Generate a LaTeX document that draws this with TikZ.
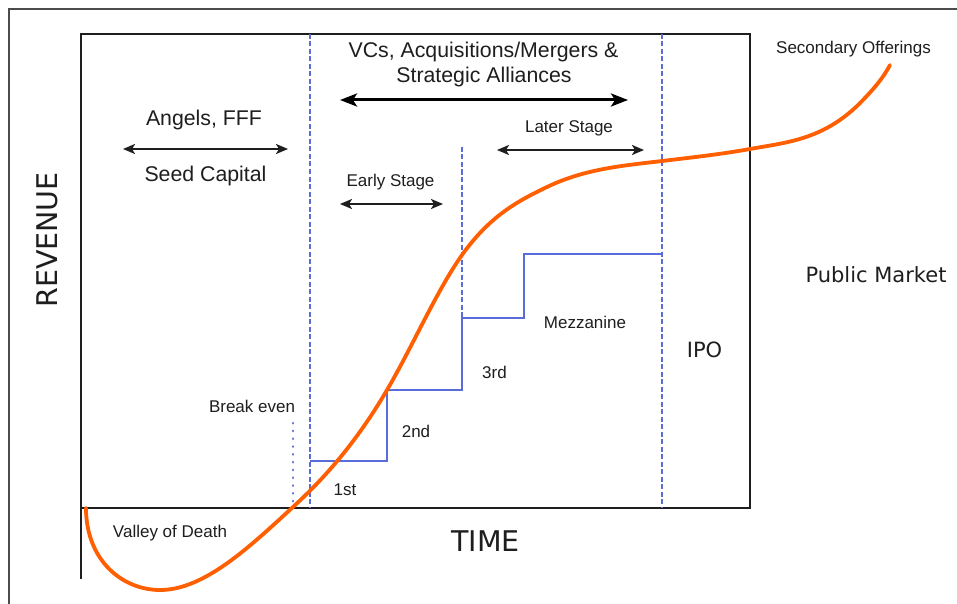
\documentclass[tikz,border=0pt]{standalone}
\usepackage{fontspec}
\setmainfont{Liberation Sans}
\newfontfamily\dvs{DejaVu Sans}
\usetikzlibrary{arrows.meta}
\definecolor{orng}{RGB}{255,95,0}
\definecolor{blu}{RGB}{88,108,218}
\definecolor{ink}{RGB}{30,30,30}
\begin{document}
\begin{tikzpicture}[x=1pt,y=-1pt,
  frameline/.style={draw=ink, line width=2.2pt},
  outerline/.style={draw=ink!80, line width=1.2pt},
  vdash/.style={draw=blu, line width=1.8pt, dash pattern=on 5pt off 2.5pt},
  vdot/.style={draw=blu, line width=2.6pt, line cap=round, dash pattern=on 0.3pt off 7.5pt},
  stepline/.style={draw=blu, line width=1.8pt},
  bigtxt/.style={font=\fontsize{21.3}{24}\selectfont, text=ink, anchor=base, inner sep=0pt},
  smtxt/.style={font=\fontsize{17}{20}\selectfont, text=ink, anchor=base, inner sep=0pt},
  dvbig/.style={font=\dvs\fontsize{28.5}{32}\selectfont, text=ink, anchor=base, inner sep=0pt},
  dvmid/.style={font=\dvs\fontsize{21}{24}\selectfont, text=ink, anchor=base, inner sep=0pt},
  dblarrow/.style={draw=ink, line width=2pt, {Stealth[length=12pt,width=10pt,inset=3pt]}-{Stealth[length=12pt,width=10pt,inset=3pt]}},
  bigarrow/.style={draw=black, line width=3pt, {Stealth[length=17pt,width=13pt,inset=4pt]}-{Stealth[length=17pt,width=13pt,inset=4pt]}}
]
\useasboundingbox (0,0) rectangle (957,604);
\fill[white] (0,0) rectangle (957,604);

% outer frame (top and left)
\draw[outerline] (9,604) -- (9,9) -- (957,9);

% main box
\coordinate (bl) at (81,508);
\coordinate (br) at (750,508);
\coordinate (tl) at (81,34);
\coordinate (tr) at (750,34);
\coordinate (axbot) at (81,579);
\draw[frameline] (axbot) -- (tl) -- (tr) -- (br) -- (bl);

% dashed blue verticals
\coordinate (d1t) at (310,34);  \coordinate (d1b) at (310,508);
\coordinate (d2t) at (462,147); \coordinate (d2b) at (462,318);
\coordinate (d3t) at (662,34);  \coordinate (d3b) at (662,508);
\draw[vdash] (d1t) -- (d1b);
\draw[vdash] (d2t) -- (d2b);
\draw[vdash] (d3t) -- (d3b);

% break-even dotted line
\coordinate (bet) at (293,423);
\coordinate (beb) at (293,506);
\draw[vdot] (bet) -- (beb);

% funding steps
\draw[stepline] (310,461) -- (387,461) -- (387,390) -- (462,390) -- (462,318)
  -- (524,318) -- (524,254) -- (662,254);

% revenue curve
\draw[orng, line width=3.8pt, line cap=round, line join=round]
  (86,508) .. controls (86,560) and (122,590) .. (160,590)
  .. controls (204,590) and (249,547.5) .. (293,507)
  .. controls (324.3,478.2) and (355.7,443.3) .. (387,390)
  .. controls (412,347.5) and (437,290) .. (462,255)
  .. controls (490.3,215.3) and (518.7,200.6) .. (547,187)
  .. controls (585.3,168.6) and (623.7,165.6) .. (662,161)
  .. controls (691.3,157.5) and (720.7,154.3) .. (750,149)
  .. controls (787.7,142.2) and (825.3,139.6) .. (863,100)
  .. controls (872,90.5) and (882,80) .. (890,65);

% arrows
\coordinate (aL) at (123,149); \coordinate (aR) at (288,149);
\draw[dblarrow] (aL) -- (aR);
\coordinate (vL) at (340,100); \coordinate (vR) at (628,100);
\draw[bigarrow] (vL) -- (vR);
\coordinate (eL) at (340,204); \coordinate (eR) at (443,204);
\draw[dblarrow] (eL) -- (eR);
\coordinate (lL) at (497,150); \coordinate (lR) at (644,150);
\draw[dblarrow] (lL) -- (lR);

% texts
\node[bigtxt] (vc1) at (483.5,58) {VCs, Acquisitions/Mergers \&};
\node[bigtxt] (vc2) at (484,83) {Strategic Alliances};
\node[bigtxt] (ang) at (204,126) {Angels, FFF};
\node[bigtxt] (seed) at (205.5,181) {Seed Capital};
\node[smtxt] (early) at (390.5,186) {Early Stage};
\node[smtxt] (later) at (569,133) {Later Stage};
\node[smtxt] (sec) at (853.5,54) {Secondary Offerings};
\node[dvmid] (pub) at (876,282) {Public Market};
\node[dvmid] (ipo) at (704.5,357) {IPO};
\node[smtxt] (mez) at (585,328) {Mezzanine};
\node[smtxt] (third) at (494.5,378) {3rd};
\node[smtxt] (second) at (416,437) {2nd};
\node[smtxt] (first) at (345,495) {1st};
\node[smtxt] (brk) at (252,412) {Break even};
\node[smtxt] (valley) at (170,537) {Valley of Death};
\node[dvbig] (time) at (485.5,551) {TIME};
\node[dvbig, rotate=90] (rev) at (57,240) {REVENUE};
\end{tikzpicture}
\end{document}
